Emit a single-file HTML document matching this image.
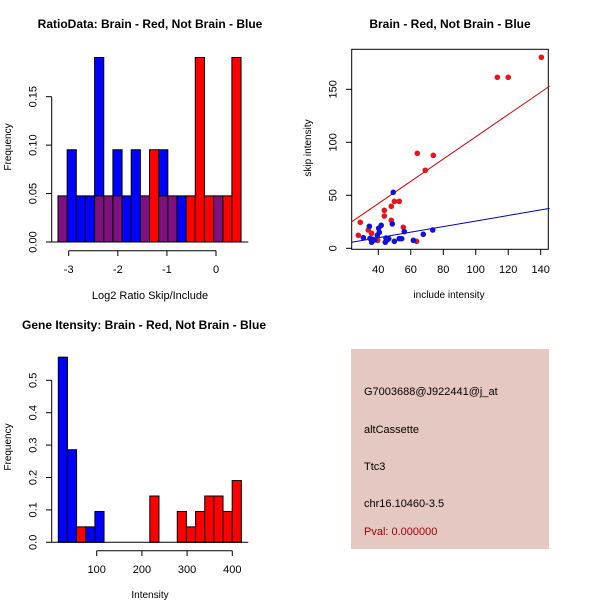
<!DOCTYPE html>
<html><head><meta charset="utf-8"><style>
body{margin:0;background:#fff}
svg{display:block;font-family:"Liberation Sans",sans-serif}
</style></head><body>
<svg id="c" width="600" height="600" viewBox="0 0 600 600">
<rect width="600" height="600" fill="#fff"/>
<text x="150" y="28" text-anchor="middle" font-weight="bold" font-size="12">RatioData: Brain - Red, Not Brain - Blue</text>
<text x="450" y="28" text-anchor="middle" font-weight="bold" font-size="12">Brain - Red, Not Brain - Blue</text>
<text x="144" y="329" text-anchor="middle" font-weight="bold" font-size="12">Gene Itensity: Brain - Red, Not Brain - Blue</text>
<g id="info">
<rect x="351" y="349" width="198" height="200" fill="#E6C8C2"/>
<text x="364" y="395" font-size="11">G7003688@J922441@j_at</text>
<text x="364" y="433" font-size="11">altCassette</text>
<text x="364" y="470" font-size="11">Ttc3</text>
<text x="364" y="507" font-size="11">chr16.10460-3.5</text>
<text x="364" y="535" font-size="11" fill="#9B0000">Pval: 0.000000</text>
</g>
</svg>
<script>
// ---- Ratio histogram data ----
const ratioBinStart = -3.218, ratioBinWidth = 0.1864;
const ratioBlue   = [0,2,1,1,4,0,2,1,2,0,0,2,0,1,0,0,0,0,0,0];
const ratioRed    = [0,0,0,0,0,0,0,0,0,0,2,0,0,0,1,4,1,0,1,4];
const ratioPurple = [1,0,0,0,1,1,1,0,0,1,0,1,1,0,0,0,0,1,0,0];
const ratioTotal = 21;
const ratioXTicks = [-3,-2,-1,0];
const ratioYTicks = [0,0.05,0.10,0.15];
const ratioYLabels = ["0.00","0.05","0.10","0.15"];
// ---- Scatter data ----
const redX = [27.7,28.9,33.8,35.9,39.6,43.7,43.7,48,48,49.9,52.9,55.4,63.6,64,68.9,73.9,113.3,120,140.4];
const redY = [12.3,24.5,17.3,14.2,7.5,30.5,35.8,26.4,39.6,44.3,44.3,19.8,6.6,89.6,73.6,87.7,161.3,161.3,180.2];
const blueX = [30.8,34.5,34.9,35.9,36.5,37.7,39.4,40.2,40.6,41.8,44.3,44.7,45.5,46.4,48.6,49.2,49.9,52.9,54.4,56,61.6,67.7,73.5];
const blueY = [10,20.8,9.4,5.7,8.5,7.9,12.3,18.9,15.1,21.7,5.7,9.7,7.9,9.1,23,52.8,6.6,9.1,9.1,15.7,7.5,13.2,17.3];
const redFit = [0.2, 1.05];   // intercept, slope
const blueFit = [-0.5, 0.262];
const scatXTicks = [40,60,80,100,120,140];
const scatYTicks = [0,50,100,150];
// ---- Intensity histogram data ----
const intBinStart = 15, intBinWidth = 20.25;
const intBlue = [12,6,0,1,2,0,0,0,0,0,0,0,0,0,0,0,0,0,0,0];
const intRed  = [0,0,1,0,0,0,0,0,0,0,3,0,0,2,1,2,3,3,2,4];
const intTotal = 21;
const intXTicks = [100,200,300,400];
const intYTicks = [0,0.1,0.2,0.3,0.4,0.5];

const svg = document.getElementById('c');
const NS = 'http://www.w3.org/2000/svg';
function mk(tag, attrs, parent){const e=document.createElementNS(NS,tag);for(const k in attrs)e.setAttribute(k,attrs[k]);(parent||svg).appendChild(e);return e;}
function txt(x,y,s,attrs){const t=mk('text',Object.assign({x:x,y:y,'font-size':11,'text-anchor':'middle'},attrs||{}));t.textContent=s;return t;}

// ===== Panel 1 =====
const r1x = v => 68.7 + (v+3)*49.1;
const r1y = v => 242 - v*968.7;
const g1 = mk('g',{});


function bars(arr, color, total, sx, sy, start, w, parent, nm){
  arr.forEach((c,i)=>{ if(!c) return;
    const x0=sx(start+i*w), x1=sx(start+(i+1)*w), y=sy(c/total);
    const r=mk('rect',{x:x0,y:y,width:x1-x0,height:sy(0)-y,fill:color,stroke:'#000','stroke-width':1},parent);
    
    
  });
}
bars(ratioBlue,'#0000FF',ratioTotal,r1x,r1y,ratioBinStart,ratioBinWidth,g1,'blue-bar');
bars(ratioRed,'#FF0000',ratioTotal,r1x,r1y,ratioBinStart,ratioBinWidth,g1,'red-bar');
bars(ratioPurple,'#7F107F',ratioTotal,r1x,r1y,ratioBinStart,ratioBinWidth,g1,'overlap-bar');
mk('line',{x1:51.7,x2:248.3,y1:242,y2:242,stroke:'#000'},g1);
mk('line',{x1:51.7,x2:51.7,y1:r1y(0),y2:r1y(0.15),stroke:'#000'},g1);
ratioYTicks.forEach((v,i)=>{mk('line',{x1:46,x2:51.7,y1:r1y(v),y2:r1y(v),stroke:'#000'},g1);
  const t=txt(0,0,ratioYLabels[i],{transform:`translate(36.5,${r1y(v)}) rotate(-90)`});});
mk('line',{x1:r1x(-3),x2:r1x(0),y1:250.7,y2:250.7,stroke:'#000'},g1);
ratioXTicks.forEach(v=>{mk('line',{x1:r1x(v),x2:r1x(v),y1:250.7,y2:256,stroke:'#000'},g1);
  const t=txt(r1x(v),273,String(v));});
let t=txt(150,299,'Log2 Ratio Skip/Include');
t=txt(0,0,'Frequency',{transform:'translate(11,147) rotate(-90)','font-size':10});

// ===== Panel 2 =====
const sx = v => 378.3 + (v-40)*1.624;
const sy = v => 248.3 - v*1.06;
const g2 = mk('g',{});


mk('rect',{x:351.7,y:49.3,width:196.6,height:200,fill:'none',stroke:'#000'},g2);
const xa=23.6, xb=145.5;
let l=mk('line',{x1:sx(xa),y1:sy(redFit[0]+redFit[1]*xa),x2:sx(xb),y2:sy(redFit[0]+redFit[1]*xb),stroke:'#CC0000'},g2);

l=mk('line',{x1:sx(xa),y1:sy(blueFit[0]+blueFit[1]*xa),x2:sx(xb),y2:sy(blueFit[0]+blueFit[1]*xb),stroke:'#0000AA'},g2);

redX.forEach((x,i)=>{const c=mk('circle',{cx:sx(x),cy:sy(redY[i]),r:2.8,fill:'#E8141A'},g2);});
blueX.forEach((x,i)=>{const c=mk('circle',{cx:sx(x),cy:sy(blueY[i]),r:2.8,fill:'#1010E0'},g2);});
scatXTicks.forEach(v=>{mk('line',{x1:sx(v),x2:sx(v),y1:249.3,y2:255,stroke:'#000'},g2);
  const t=txt(sx(v),273,String(v));});
scatYTicks.forEach(v=>{mk('line',{x1:346,x2:351.7,y1:sy(v),y2:sy(v),stroke:'#000'},g2);
  const t=txt(0,0,String(v),{transform:`translate(336.5,${sy(v)}) rotate(-90)`});});
t=txt(449,298,'include intensity',{'font-size':10});
t=txt(0,0,'skip intensity',{transform:'translate(311,148) rotate(-90)','font-size':10});

// ===== Panel 3 =====
const ix = v => 96.7 + (v-100)*0.452;
const iy = v => 542.3 - v*324;
const g3 = mk('g',{});


bars(intBlue,'#0000FF',intTotal,ix,iy,intBinStart,intBinWidth,g3,'blue-bar');
bars(intRed,'#FF0000',intTotal,ix,iy,intBinStart,intBinWidth,g3,'red-bar');
mk('line',{x1:51.7,x2:248.3,y1:542.3,y2:542.3,stroke:'#000'},g3);
mk('line',{x1:51.7,x2:51.7,y1:iy(0),y2:iy(0.5),stroke:'#000'},g3);
intYTicks.forEach(v=>{mk('line',{x1:46,x2:51.7,y1:iy(v),y2:iy(v),stroke:'#000'},g3);
  const t=txt(0,0,v.toFixed(1),{transform:`translate(36.5,${iy(v)}) rotate(-90)`});});
mk('line',{x1:ix(100),x2:ix(400),y1:550.7,y2:550.7,stroke:'#000'},g3);
intXTicks.forEach(v=>{mk('line',{x1:ix(v),x2:ix(v),y1:550.7,y2:556,stroke:'#000'},g3);
  const t=txt(ix(v),573,String(v));});
t=txt(150,598,'Intensity',{'font-size':10});
t=txt(0,0,'Frequency',{transform:'translate(11,447) rotate(-90)','font-size':10});
</script>
</body></html>
